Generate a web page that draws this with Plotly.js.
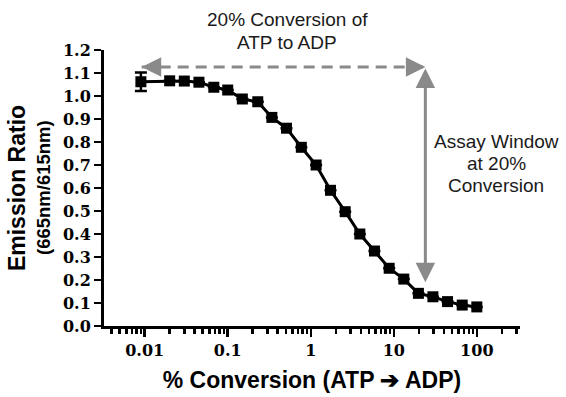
<!DOCTYPE html>
<html>
<head>
<meta charset="utf-8">
<script src="https://cdn.plot.ly/plotly-3.0.1.min.js"></script>
<style>html,body{margin:0;padding:0;background:#fff;}#chart{width:566px;height:397px;}</style>
</head>
<body>
<div id="chart"></div>
<script>
// % conversion of ATP to ADP (x, log scale)
const conversion = [0.009, 0.02, 0.03, 0.045, 0.068, 0.1, 0.15, 0.23, 0.34, 0.51, 0.77, 1.16, 1.73, 2.6, 3.9, 5.85, 8.8, 13.2, 19.8, 29.6, 44.4, 66.7, 100];
// Emission ratio (665nm/615nm)
const emissionRatio = [1.062, 1.066, 1.065, 1.060, 1.038, 1.026, 0.987, 0.975, 0.907, 0.860, 0.777, 0.700, 0.590, 0.497, 0.400, 0.326, 0.251, 0.204, 0.142, 0.127, 0.106, 0.091, 0.083];
// error (SD) - only the first point's bar is visible outside the marker
const ratioError = [0.04, null, null, null, null, null, null, null, null, null, null, null, null, null, null, null, null, null, null, null, null, null, null];

const xTickVals = [0.01, 0.1, 1, 10, 100];
const xTickText = ['0.01', '0.1', '1', '10', '100'];
const yTickVals = [0, 0.1, 0.2, 0.3, 0.4, 0.5, 0.6, 0.7, 0.8, 0.9, 1.0, 1.1, 1.2];

// annotation geometry (data coordinates)
const windowX = 24;        // x position of the assay-window arrow
const topY = 1.126;        // height of the horizontal dashed arrow
const bottomY = 0.19;      // lower tip of the vertical arrow
const leftX = 0.0092;      // left tip of the horizontal arrow

const minorTicks = [];
for (let e = -3; e <= 2; e++) {
  for (let d = 2; d <= 9; d++) minorTicks.push(d * Math.pow(10, e));
}

const grey = '#8a8a8a';
const textCol = '#1a1a1a';
const sans = 'Liberation Sans, Arial, sans-serif';

const traces = [
  {
    x: [leftX, windowX], y: [topY, topY],
    mode: 'lines', line: {color: grey, width: 3, dash: '11px,7px'},
    hoverinfo: 'skip', showlegend: false
  },
  {
    x: conversion, y: emissionRatio,
    mode: 'lines+markers',
    line: {color: '#000', width: 3},
    marker: {symbol: 'square', size: 11, color: '#000'},
    error_y: {type: 'data', array: ratioError, visible: true, color: '#000', thickness: 2.5, width: 6},
    showlegend: false
  }
];

function label(text, px, py, size) {
  return {xref: 'paper', yref: 'paper', x: (px - 104) / 416, y: (326 - py) / 276,
          xanchor: 'center', yanchor: 'middle', showarrow: false, text: text,
          font: {family: sans, size: size, color: textCol}};
}

const lx = Math.log10;
const layout = {
  width: 566, height: 397,
  margin: {l: 104, r: 46, t: 50, b: 71},
  paper_bgcolor: '#fff', plot_bgcolor: '#fff',
  showlegend: false,
  xaxis: {
    type: 'log', range: [-2.49, 2.52],
    showgrid: false, zeroline: false,
    showline: true, linewidth: 3, linecolor: '#000',
    tickmode: 'array', tickvals: xTickVals, ticktext: xTickText,
    ticks: 'outside', ticklen: 8, tickwidth: 2.5, tickcolor: '#000',
    minor: {tickmode: 'array', tickvals: minorTicks, ticks: 'outside', ticklen: 5, tickwidth: 2.5, tickcolor: '#000'},
    tickfont: {family: 'DejaVu Serif', size: 16, color: '#000', weight: 'bold'},
    title: {text: '% Conversion (ATP \u2794 ADP)', font: {family: sans, size: 23, color: '#000', weight: 'bold'}, standoff: 13}
  },
  yaxis: {
    range: [0, 1.2],
    showgrid: false, zeroline: false,
    showline: true, linewidth: 3, linecolor: '#000',
    tickmode: 'array', tickvals: yTickVals, tickformat: '.1f',
    ticks: 'outside', ticklen: 7, tickwidth: 2.5, tickcolor: '#000',
    tickfont: {family: 'DejaVu Serif', size: 16, color: '#000', weight: 'bold'},
    title: {text: 'Emission Ratio', font: {family: sans, size: 23, color: '#000', weight: 'bold'}, standoff: 31}
  },
  annotations: [
    // second line of the y-axis title
    {xref: 'paper', yref: 'paper', x: 0, y: 0.5, xanchor: 'center', yanchor: 'middle', xshift: -61, textangle: -90,
     showarrow: false, text: '<b>(665nm/615nm)</b>', font: {family: sans, size: 18.5, color: '#000'}},
    // left arrowhead of dashed arrow
    {x: lx(leftX), y: topY, ax: 12, ay: 0, xref: 'x', yref: 'y', text: '', showarrow: true, arrowhead: 2, arrowsize: 1.3, arrowwidth: 3, arrowcolor: grey},
    // right arrowhead of dashed arrow
    {x: lx(windowX), y: topY, ax: -12, ay: 0, xref: 'x', yref: 'y', text: '', showarrow: true, arrowhead: 2, arrowsize: 1.3, arrowwidth: 3, arrowcolor: grey},
    // vertical double-headed arrow (assay window)
    {x: lx(windowX), y: bottomY, ax: lx(windowX), ay: topY, axref: 'x', ayref: 'y', xref: 'x', yref: 'y', text: '', showarrow: true, arrowhead: 2, arrowside: 'end+start', arrowsize: 1.3, arrowwidth: 3, arrowcolor: grey},
    label('20% Conversion of', 287, 20, 19),
    label('ATP to ADP', 287, 42, 19),
    label('Assay Window', 496, 141, 19),
    label('at 20%', 496, 163, 19),
    label('Conversion', 496, 185, 19)
  ]
};

Plotly.newPlot('chart', traces, layout, {staticPlot: true, displayModeBar: false});
</script>
</body>
</html>
